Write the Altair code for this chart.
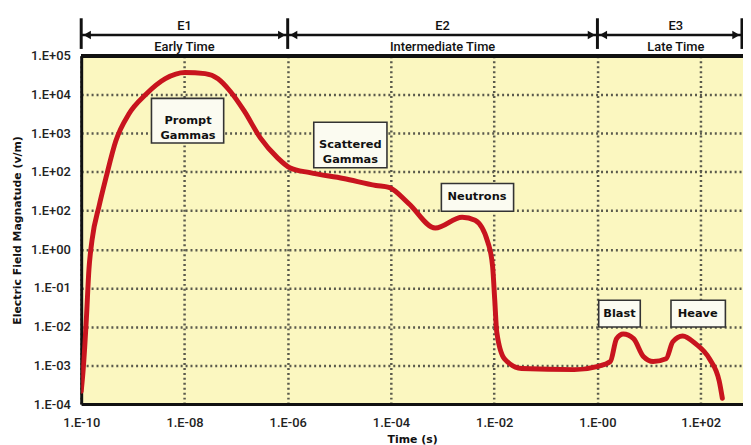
import altair as alt
import pandas as pd

# ---- curve (log10 units) ----
log_time = [-10.00, -9.96, -9.90, -9.85, -9.79, -9.65, -9.52, -9.33, -9.08, -8.75,
            -8.37, -7.99, -7.60, -7.35, -7.11, -6.84, -6.53, -6.20, -5.96, -5.57,
            -4.92, -4.29, -4.04, -3.66, -3.14, -2.62, -2.37, -2.12, -2.03, -1.99,
            -1.95, -1.80, -1.47, -0.45, -0.01, 0.25, 0.37, 0.50, 0.70, 0.89,
            1.08, 1.33, 1.46, 1.65, 1.90, 2.17, 2.36, 2.42]
log_field = [-3.67, -3.08, -1.80, -0.52, 0.24, 1.14, 1.85, 2.80, 3.49, 4.00,
             4.41, 4.57, 4.54, 4.41, 4.08, 3.57, 2.88, 2.37, 2.11, 1.98,
             1.83, 1.65, 1.60, 1.19, 0.55, 0.83, 0.75, 0.17, -0.45, -1.29,
             -2.14, -2.83, -3.08, -3.11, -3.03, -2.90, -2.31, -2.19, -2.31, -2.77,
             -2.90, -2.83, -2.39, -2.24, -2.44, -2.83, -3.41, -3.85]

# ---- axis ticks ----
x_tick_exp = [-10, -8, -6, -4, -2, 0, 2]
x_tick_labels = ["1.E-10", "1.E-08", "1.E-06", "1.E-04", "1.E-02", "1.E-00", "1.E+02"]
y_tick_exp = [-4, -3, -2, -1, 0, 1, 2, 3, 4, 5]
y_tick_labels = ["1.E-04", "1.E-03", "1.E-02", "1.E-01", "1.E+00",
                 "1.E+02", "1.E+02", "1.E+03", "1.E+04", "1.E+05"]

# ---- eras (top bracket) ----
era_names = ["E1", "E2", "E3"]
era_subtitles = ["Early Time", "Intermediate Time", "Late Time"]
era_start_exp = [-10, -6, 0]
era_end_exp = [-6, 0, 2.8]
era_label_exp = [-8, -3, 1.52]

# ---- annotation boxes ----
ann_text = ["Prompt\nGammas", "Scattered\nGammas", "Neutrons", "Blast", "Heave"]
ann_x_exp = [-7.93, -4.786, -2.333, 0.428, 1.942]
ann_y_exp = [3.312, 2.698, 1.343, -1.675, -1.675]
ann_x0_exp = [-8.639, -5.495, -3.023, 0.025, 1.425]
ann_x1_exp = [-7.240, -4.077, -1.624, 0.830, 2.479]
ann_y0_exp = [3.900, 3.286, 1.701, -1.317, -1.317]
ann_y1_exp = [2.749, 2.110, 0.985, -2.008, -2.008]

W, H = 669, 352
X_MAX_EXP = 2.82

curve = pd.DataFrame({"t": [10 ** v for v in log_time], "e": [10 ** v for v in log_field]})
eras = pd.DataFrame({
    "name": era_names, "sub": era_subtitles,
    "start": [10 ** v for v in era_start_exp],
    "end": [10 ** v for v in era_end_exp],
    "mid": [10 ** v for v in era_label_exp],
})
bounds = pd.DataFrame({"b": [10 ** v for v in sorted(set(era_start_exp + era_end_exp))]})
ann = pd.DataFrame({
    "text": ann_text,
    "x": [10 ** v for v in ann_x_exp], "y": [10 ** v for v in ann_y_exp],
    "x0": [10 ** v for v in ann_x0_exp], "x1": [10 ** v for v in ann_x1_exp],
    "y0": [10 ** v for v in ann_y0_exp], "y1": [10 ** v for v in ann_y1_exp],
})

xlab = "[" + ",".join("'%s'" % s for s in x_tick_labels) + "][round((log(datum.value)/LN10+10)/2)]"
ylab = "[" + ",".join("'%s'" % s for s in y_tick_labels) + "][round(log(datum.value)/LN10)+4]"

x_scale = alt.Scale(type="log", domain=[1e-10, 10 ** X_MAX_EXP], nice=False)
y_scale = alt.Scale(type="log", domain=[1e-4, 1e5], nice=False)

x_axis = alt.Axis(values=[10 ** v for v in x_tick_exp], labelExpr=xlab, title="Time (s)",
                  grid=True, tickSize=0, labelPadding=13, domainColor="#111", domainWidth=3,
                  titleY=30, titleBaseline="top", labelFlush=False)
y_axis = alt.Axis(values=[10 ** v for v in y_tick_exp], labelExpr=ylab,
                  title="Electric Field Magnatude (v/m)", grid=True, tickSize=0,
                  labelPadding=11, domainColor="#111", domainWidth=3,
                  titleX=-59, titleY=H / 2, titleAngle=-90, labelFlush=False)

line = alt.Chart(curve).mark_line(color="#c8141e", strokeWidth=5, interpolate="monotone",
                                  clip=True, strokeCap="round").encode(
    x=alt.X("t:Q", scale=x_scale, axis=x_axis),
    y=alt.Y("e:Q", scale=y_scale, axis=y_axis),
)

boxes = alt.Chart(ann).mark_rect(fill="#fbfbf1", stroke="#333333", strokeWidth=1.6).encode(
    x=alt.X("x0:Q", scale=x_scale), x2="x1:Q",
    y=alt.Y("y0:Q", scale=y_scale), y2="y1:Q",
)
box_text = alt.Chart(ann).mark_text(font="DejaVu Sans", fontWeight="bold", fontSize=11.5,
                                    lineBreak="\n", lineHeight=15, color="#111",
                                    baseline="middle").encode(
    x=alt.X("x:Q", scale=x_scale), y=alt.Y("y:Q", scale=y_scale), text="text:N",
)

top_border = alt.Chart(curve).mark_rule(color="#111", strokeWidth=3).encode(
    x=alt.value(0), x2=alt.value(W), y=alt.value(0)
)

era_lines = alt.Chart(eras).mark_rule(color="#111", strokeWidth=2.5).encode(
    x=alt.X("start:Q", scale=x_scale), x2="end:Q", y=alt.value(-21)
)
era_divs = alt.Chart(bounds).mark_rule(color="#111", strokeWidth=3).encode(
    x=alt.X("b:Q", scale=x_scale), y=alt.value(-38), y2=alt.value(-7)
)
arrow_l = alt.Chart(eras).mark_point(shape="triangle-left", filled=True, color="#111",
                                     size=75, opacity=1, xOffset=6).encode(
    x=alt.X("start:Q", scale=x_scale), y=alt.value(-21)
)
arrow_r = alt.Chart(eras).mark_point(shape="triangle-right", filled=True, color="#111",
                                     size=75, opacity=1, xOffset=-6).encode(
    x=alt.X("end:Q", scale=x_scale), y=alt.value(-21)
)
era_name_text = alt.Chart(eras).mark_text(font="Roboto", fontSize=13, fontWeight=500,
                                          color="#111", baseline="middle").encode(
    x=alt.X("mid:Q", scale=x_scale), y=alt.value(-30), text="name:N"
)
era_sub_text = alt.Chart(eras).mark_text(font="Roboto", fontSize=13, fontWeight=500,
                                         color="#111", baseline="middle").encode(
    x=alt.X("mid:Q", scale=x_scale), y=alt.value(-9), text="sub:N"
)

chart = alt.layer(
    line, boxes, box_text, top_border, era_lines, era_divs, arrow_l, arrow_r,
    era_name_text, era_sub_text,
).properties(
    width=W, height=H,
    autosize=alt.AutoSizeParams(type="none"),
    padding={"left": 74, "top": 46, "right": 0, "bottom": 39},
    background="white",
).configure_view(
    fill="#fbf7c0", stroke="transparent"
).configure_axis(
    labelFont="Roboto", labelFontSize=13, labelFontWeight=500, labelColor="#222",
    titleFont="DejaVu Sans", titleFontSize=11, titleFontWeight="bold", titleColor="#111",
    gridColor="#5a5a4c", gridDash=[2, 3], gridWidth=2.5, gridOpacity=1,
)

chart.save("out.html", embed_options={"renderer": "svg", "actions": False})
